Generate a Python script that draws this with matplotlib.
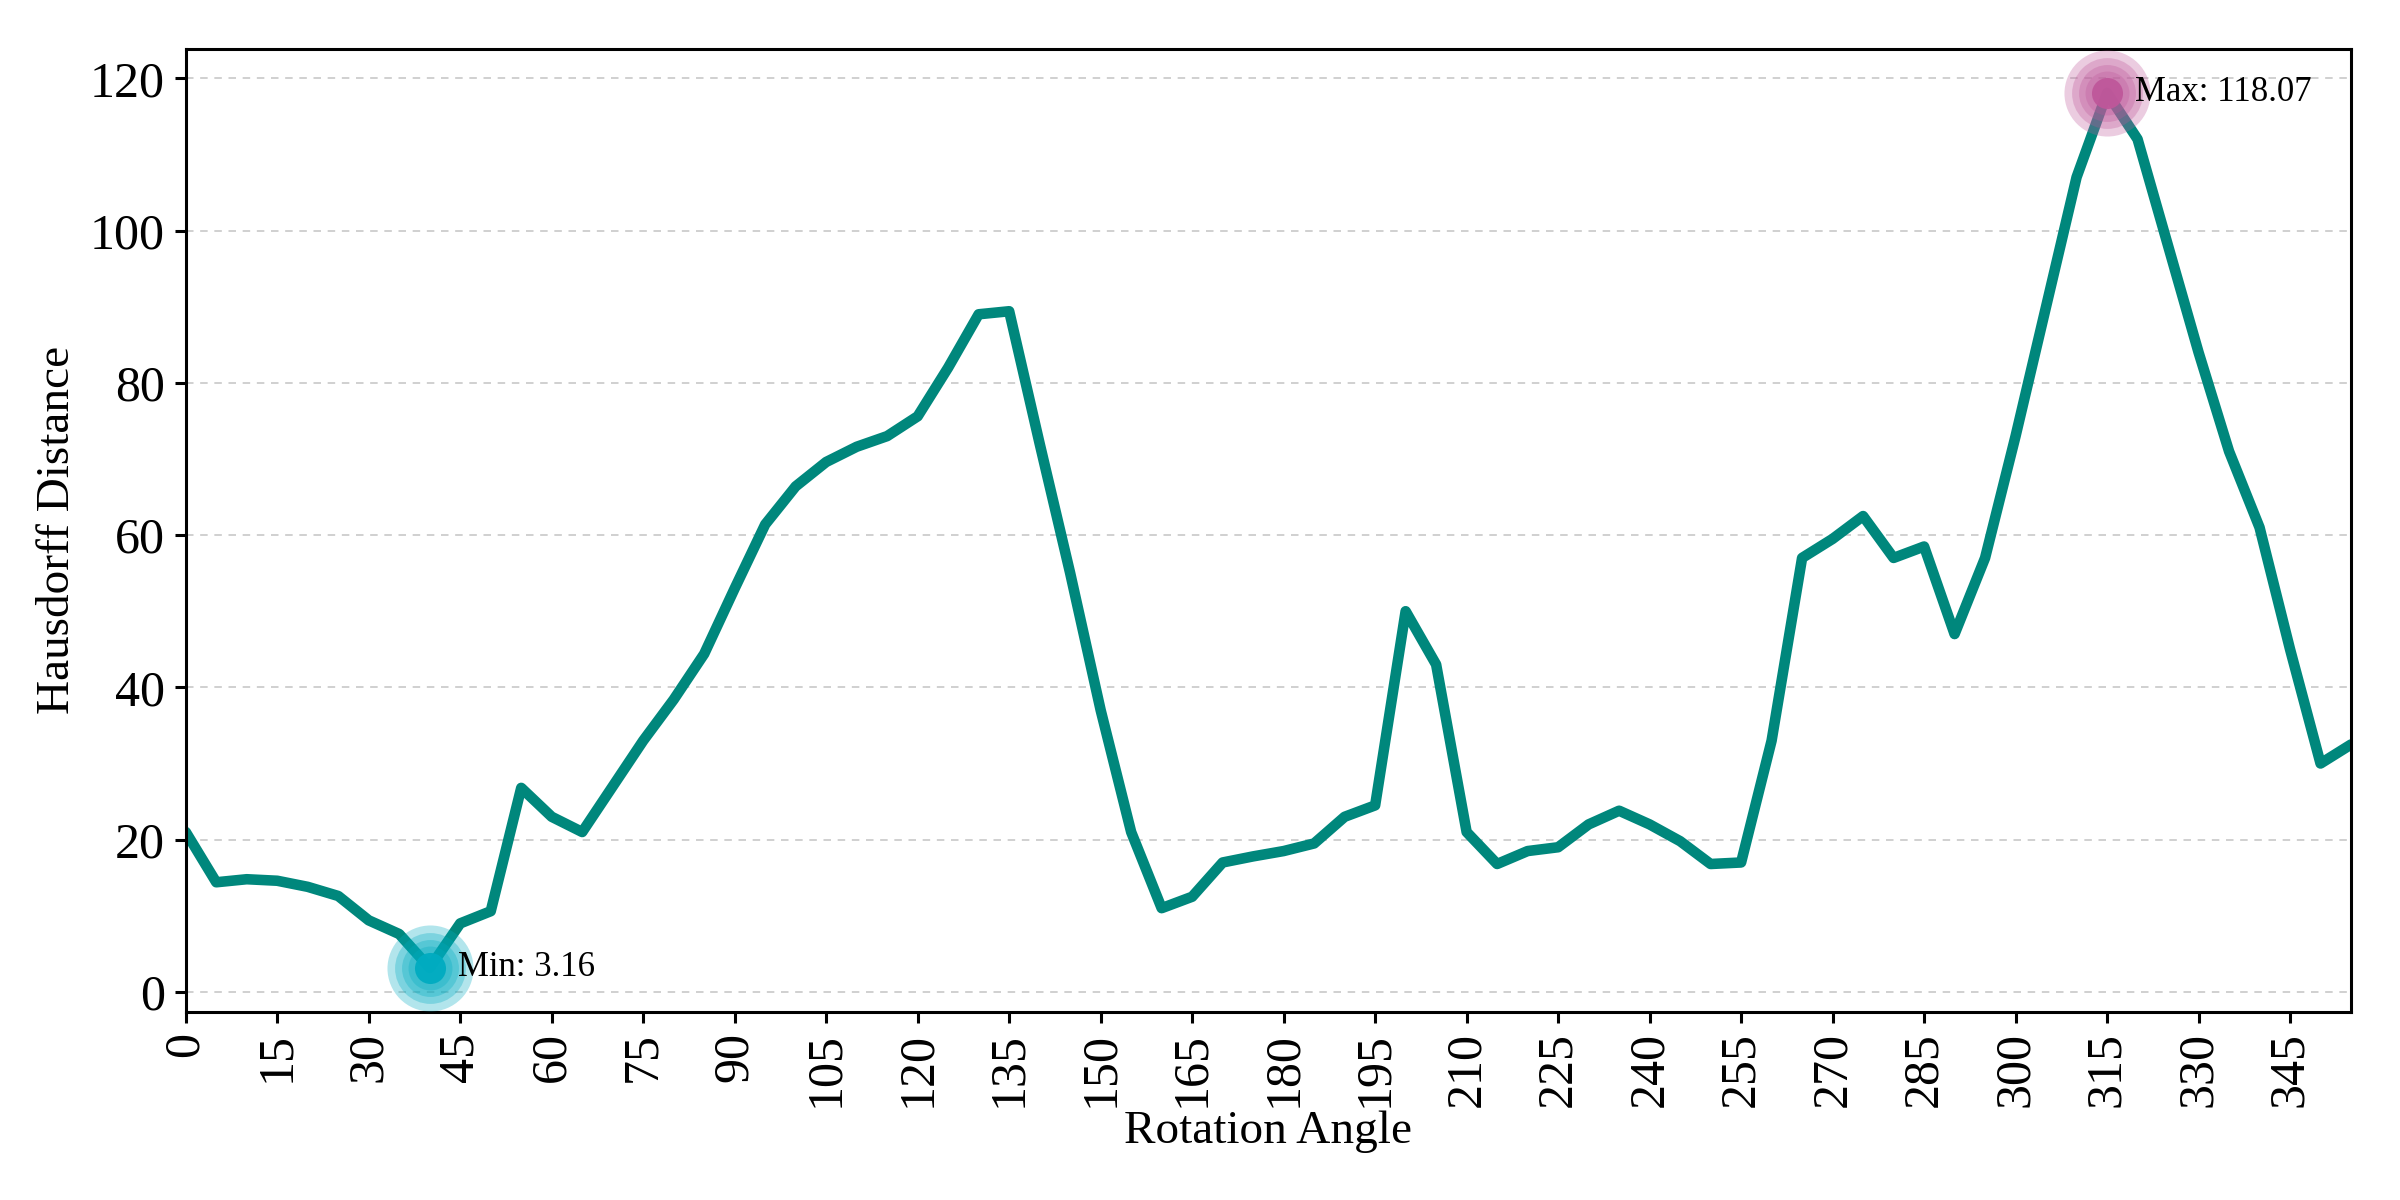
import numpy as np
from matplotlib import pyplot as plt

plt.rcParams['font.family'] = ['Liberation Serif', 'DejaVu Serif']

# rotation angles (deg) and Hausdorff distances
angles = list(range(0, 360, 5))
distances = [
    21.0, 14.4, 14.8, 14.6, 13.8, 12.6, 9.4, 7.6, 3.16, 9.0,
    10.6, 26.8, 23.0, 21.0, 27.0, 33.0, 38.4, 44.4, 53.0, 61.4,
    66.4, 69.6, 71.6, 73.0, 75.6, 82.0, 89.0, 89.4, 72.0, 55.0,
    37.0, 21.0, 11.0, 12.5, 17.0, 17.8, 18.5, 19.5, 23.0, 24.5,
    50.0, 43.0, 21.0, 16.8, 18.5, 19.0, 22.0, 23.8, 22.0, 19.8,
    16.8, 17.0, 33.0, 57.0, 59.5, 62.5, 57.0, 58.5, 47.0, 57.0,
    73.0, 90.0, 107.0, 118.07, 112.0, 98.0, 84.0, 71.0, 61.0, 45.0,
    30.0, 32.5,
]
xticks = list(range(0, 360, 15))

line_color = '#00877c'
min_color = '#00acc1'
max_color = '#bf579a'

fig, ax = plt.subplots(figsize=(12, 6), dpi=200)
fig.subplots_adjust(left=0.0774, right=0.9796, top=0.959, bottom=0.157)

x = np.array(angles)
y = np.array(distances)
ax.plot(x, y, color=line_color, lw=3.8, solid_joinstyle='round',
        solid_capstyle='round', zorder=2)

i_min = int(np.argmin(y))
i_max = int(np.argmax(y))

# glow markers for min / max
ring_sizes = [960, 650, 420, 250]
for idx, col in [(i_min, min_color), (i_max, max_color)]:
    for s in ring_sizes:
        ax.scatter(x[idx], y[idx], s=s, color=col, alpha=0.3,
                   linewidths=0, zorder=3)
    ax.scatter(x[idx], y[idx], s=125, color=col, alpha=0.95,
               linewidths=0, zorder=4)

ax.annotate('Min: %.2f' % y[i_min], (x[i_min], y[i_min]),
            xytext=(10, 0), textcoords='offset points', va='center',
            fontsize=12.5, zorder=5)
ax.annotate('Max: %.2f' % y[i_max], (x[i_max], y[i_max]),
            xytext=(10, 0), textcoords='offset points', va='center',
            fontsize=12.5, zorder=5)

ax.set_xlim(0, 355)
ax.set_xticks(xticks)
ax.tick_params(axis='x', labelrotation=90)
ax.tick_params(labelsize=18, width=1.1, length=4)
ax.set_yticks([0, 20, 40, 60, 80, 100, 120])
ax.set_xlabel('Rotation Angle', fontsize=17, labelpad=1)
ax.set_ylabel('Hausdorff Distance', fontsize=17)
ax.grid(axis='y', linestyle=(0, (4.5, 4)), color='#c8c8c8', lw=0.6)
ax.set_axisbelow(True)
for sp in ax.spines.values():
    sp.set_linewidth(1.1)

plt.savefig('out.png')
